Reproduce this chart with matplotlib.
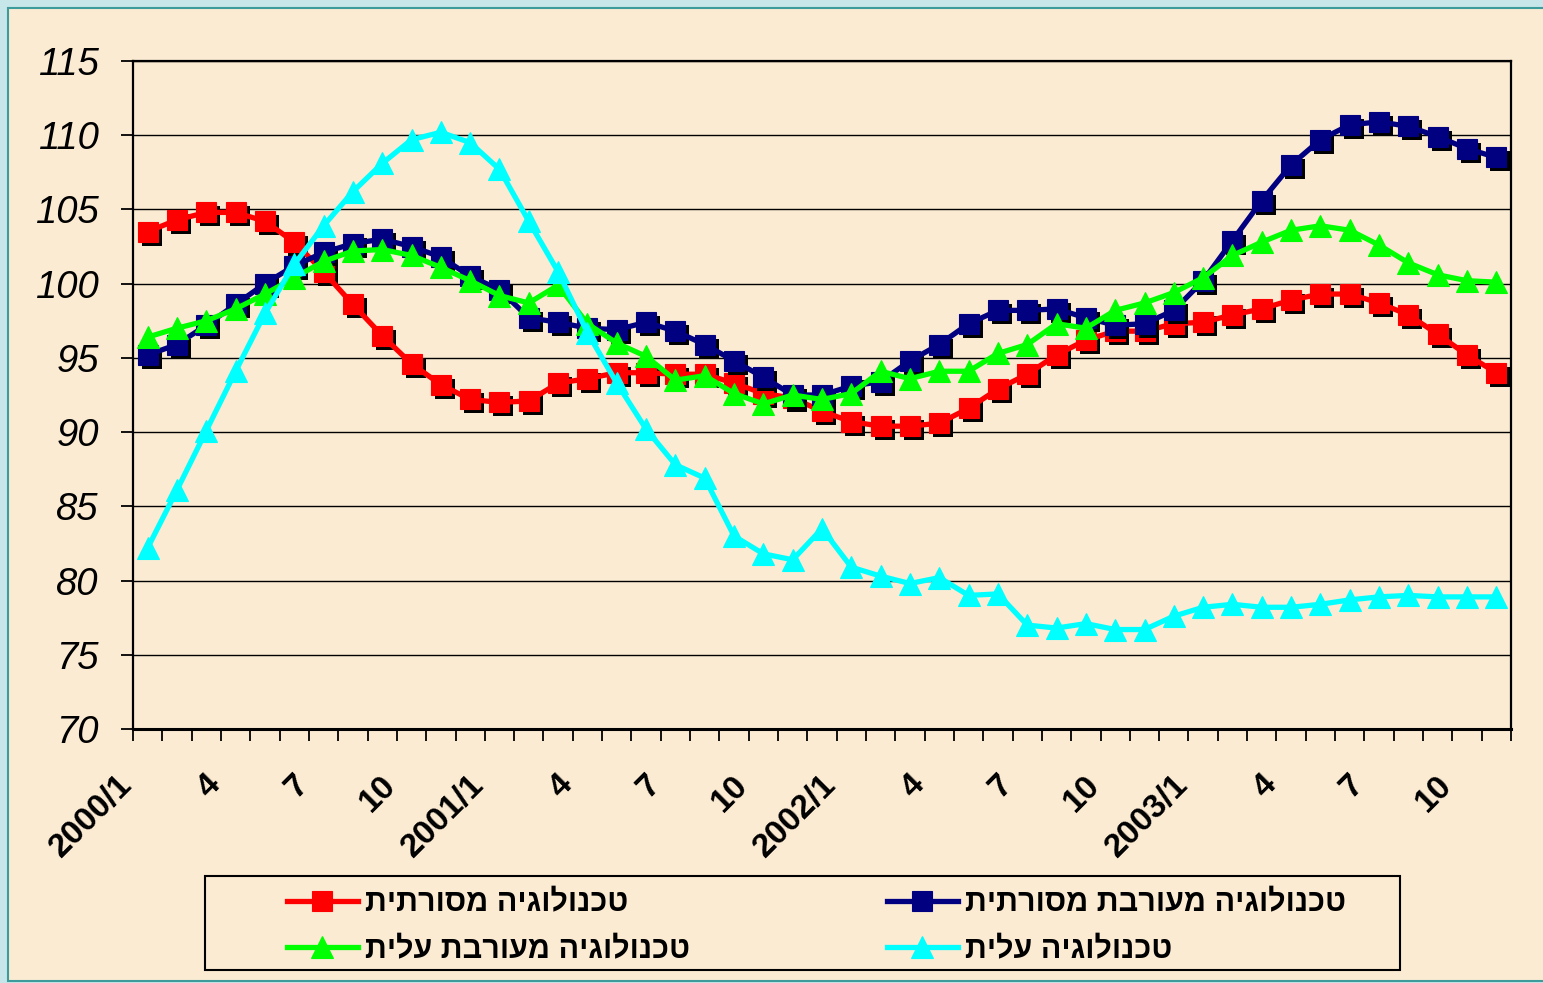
import matplotlib
matplotlib.use('Agg')
import matplotlib.pyplot as plt
from matplotlib.patches import Rectangle
from matplotlib.transforms import offset_copy, ScaledTranslation

plt.rcParams['font.family'] = ['Liberation Sans', 'DejaVu Sans']

# monthly index, 2000/1 .. 2003/11
traditional = [103.5, 104.3, 104.8, 104.8, 104.2, 102.8, 100.8, 98.6, 96.5, 94.6, 93.2, 92.2, 92.0,
               92.1, 93.3, 93.6, 94.0, 94.0, 93.9, 93.9, 93.3, 92.6, 92.3, 91.4, 90.7, 90.4, 90.4,
               90.6, 91.6, 92.9, 93.9, 95.2, 96.2, 96.8, 96.8, 97.3, 97.4, 97.9, 98.3, 98.9, 99.3,
               99.3, 98.7, 97.9, 96.6, 95.2, 94.0]
mixed_traditional = [95.2, 95.9, 97.2, 98.6, 100.0, 101.2, 102.1, 102.7, 103.0, 102.5, 101.8, 100.5, 99.6,
                     97.7, 97.4, 97.0, 96.9, 97.4, 96.8, 95.9, 94.8, 93.7, 92.5, 92.5, 93.1, 93.4, 94.8,
                     95.9, 97.3, 98.2, 98.2, 98.3, 97.7, 97.2, 97.3, 98.2, 100.2, 102.9, 105.6, 108.0,
                     109.7, 110.7, 110.9, 110.6, 109.9, 109.1, 108.5]
mixed_high = [96.4, 97.0, 97.5, 98.3, 99.3, 100.4, 101.5, 102.2, 102.3, 101.9, 101.1, 100.2, 99.2,
              98.7, 99.9, 97.3, 96.0, 95.1, 93.5, 93.8, 92.6, 91.9, 92.5, 92.2, 92.6, 94.1, 93.6,
              94.1, 94.1, 95.3, 95.9, 97.3, 97.0, 98.2, 98.7, 99.4, 100.4, 101.9, 102.8, 103.6,
              103.9, 103.6, 102.6, 101.4, 100.6, 100.2, 100.1]
high_tech = [82.2, 86.1, 90.1, 94.1, 98.0, 101.3, 103.9, 106.2, 108.1, 109.7, 110.2, 109.5, 107.7,
             104.2, 100.8, 96.7, 93.3, 90.2, 87.8, 86.9, 83.0, 81.8, 81.4, 83.5, 80.9, 80.3, 79.8,
             80.2, 79.0, 79.1, 77.0, 76.8, 77.1, 76.7, 76.7, 77.6, 78.2, 78.4, 78.2, 78.2, 78.4,
             78.7, 78.9, 79.0, 78.9, 78.9, 78.9]

tick_labels = ['2000/1', '4', '7', '10', '2001/1', '4', '7', '10',
               '2002/1', '4', '7', '10', '2003/1', '4', '7', '10']

names = ['טכנולוגיה מסורתית', 'טכנולוגיה מעורבת מסורתית',
         'טכנולוגיה מעורבת עלית', 'טכנולוגיה עלית']


def rtl(s):
    # matplotlib lays text out left to right, so flip Hebrew for display
    return s[::-1]


W, H = 1543, 983
fig = plt.figure(figsize=(W / 100, H / 100), dpi=100, facecolor='#c6e6e9')
fig.patches.append(Rectangle((8 / W, 2 / H), 1.0, 1 - 10 / H, transform=fig.transFigure,
                             facecolor='#fbebd3', edgecolor='#3c9c9c', lw=1.5, zorder=-5))

ax = fig.add_axes([133 / W, 1 - 729 / H, (1511 - 133) / W, (729 - 61) / H])
ax.set_facecolor('none')

x = list(range(1, len(traditional) + 1))
series = [
    (traditional, '#ff0000', 's', 14, True),
    (mixed_traditional, '#000080', 's', 14, True),
    (mixed_high, '#00ff00', '^', 16, False),
    (high_tech, '#00ffff', '^', 16, False),
]
shadow = offset_copy(ax.transData, fig=fig, x=4, y=-4, units='dots')
handles = []
for i, (vals, color, marker, ms, has_shadow) in enumerate(series):
    z = 3 + i
    if has_shadow:
        ax.plot(x, vals, ls='none', marker=marker, ms=ms, color='black', mew=0,
                transform=shadow, zorder=z)
    h, = ax.plot(x, vals, color=color, lw=3.8, marker=marker, ms=ms, mec=color, mew=0.8,
                 zorder=z + 0.5, label=rtl(names[i]))
    handles.append(h)

ax.set_ylim(70, 115)
ax.set_xlim(0.5, len(x) + 0.5)
ax.set_yticks(range(70, 116, 5))
ax.yaxis.grid(True, color='black', lw=1.0)
ax.set_axisbelow(True)
for side in ['left', 'right', 'top']:
    ax.spines[side].set_linewidth(1.6)
ax.spines['bottom'].set_linewidth(2.2)

ax.tick_params(axis='y', length=8.6, width=1.3, pad=16, labelsize=27.5)
for lbl in ax.get_yticklabels():
    lbl.set_fontstyle('italic')

ax.set_xticks([k + 0.5 for k in range(0, len(x) + 1)], minor=True)
ax.set_xticks(x[::3])
ax.set_xticklabels(tick_labels)
ax.tick_params(axis='x', which='minor', length=8.6, width=1.3)
ax.tick_params(axis='x', which='major', length=0, pad=37, labelsize=24)
shift = ScaledTranslation(-0.2, 0, fig.dpi_scale_trans)
for lbl in ax.get_xticklabels():
    lbl.set_fontweight('bold')
    lbl.set_rotation(45)
    lbl.set_ha('right')
    lbl.set_va('center')
    lbl.set_rotation_mode('anchor')
    lbl.set_transform(lbl.get_transform() + shift)

# legend: two columns inside one framed box
legend_kw = dict(loc='upper left', frameon=False, handlelength=2.3, handletextpad=0.25,
                 labelspacing=0.55, borderpad=0, prop={'weight': 'bold', 'size': 22})
fig.legend([handles[0], handles[2]], [rtl(names[0]), rtl(names[2])],
           bbox_to_anchor=(272 / W, 1 - 873 / H), **legend_kw)
fig.legend([handles[1], handles[3]], [rtl(names[1]), rtl(names[3])],
           bbox_to_anchor=(872 / W, 1 - 873 / H), **legend_kw)
fig.patches.append(Rectangle((205 / W, 1 - 970 / H), 1195 / W, 94 / H, transform=fig.transFigure,
                             facecolor='none', edgecolor='black', lw=1.5))

fig.savefig('out.png', dpi=100, facecolor=fig.get_facecolor())
